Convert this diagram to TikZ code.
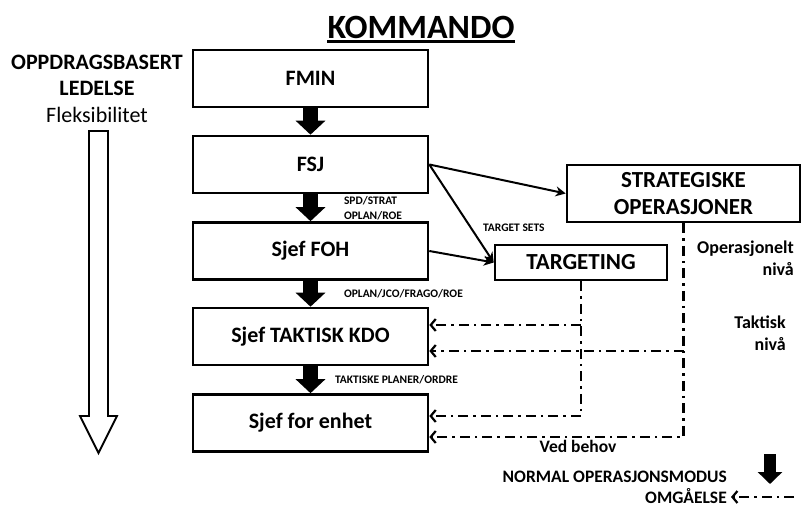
\documentclass[tikz,border=0pt]{standalone}
\usepackage{fontspec}
\setmainfont{Carlito}
\usetikzlibrary{arrows.meta}

\begin{document}
\begin{tikzpicture}[x=1pt, y=-1pt, font=\bfseries,
    box/.style={draw, line width=2.6pt, minimum width=235pt, minimum height=57pt, font=\fontsize{22}{26}\selectfont\bfseries},
    order/.style={line width=15pt, -{Triangle[width=29pt,length=14pt]}},
    link/.style={line width=2pt, -{Stealth[length=10pt,width=10pt]}},
    bypass/.style={line width=2.2pt, dash pattern=on 10pt off 5pt on 2.5pt off 5pt, -{Straight Barb[length=5pt,width=12pt]}},
    tiny/.style={font=\fontsize{11.5}{15}\selectfont\bfseries, inner sep=0pt, align=left},
    level/.style={font=\fontsize{18}{22}\selectfont\bfseries, inner sep=0pt, align=right}]
    \useasboundingbox (0,0) rectangle (801,508);

    \node[font=\fontsize{34}{40}\selectfont\bfseries, inner sep=0pt] (title) at (421,27) {KOMMANDO};
    \draw[line width=2.2pt] ([yshift=-3pt]title.south west) -- ([yshift=-3pt]title.south east);

    \node[font=\fontsize{22}{26}\selectfont\bfseries] (oppdrag) at (97,62) {OPPDRAGSBASERT};
    \node[font=\fontsize{22}{26}\selectfont\bfseries] (ledelse) at (97,88) {LEDELSE};
    \node[font=\fontsize{22}{26}\selectfont] (fleks) at (97,115) {Fleksibilitet};
    \draw[line width=1.8pt] (89,131) -- (108,131) -- (108,416) -- (117,416) -- (98.5,453)
        -- (80,416) -- (89,416) -- cycle;

    \node[box] (fmin) at (310.5,78.5) {FMIN};
    \node[box] (fsj) at (310.5,164.5) {FSJ};
    \node[box] (foh) at (310.5,251) {Sjef FOH};
    \node[box] (taktisk) at (310.5,336.5) {Sjef TAKTISK KDO};
    \node[box] (enhet) at (310.5,423) {Sjef for enhet};
    \node[box, minimum width=233pt, align=center, font=\fontsize{23}{27}\selectfont\bfseries] (strat) at (683.5,193.5) {STRATEGISKE\\OPERASJONER};
    \node[box, minimum width=172pt, minimum height=35pt, font=\fontsize{23}{27}\selectfont\bfseries] (targ) at (581,262.5) {TARGETING};

    \draw[order] (fmin) -- (fsj);
    \draw[order] (fsj) -- (foh) node[midway, right=26pt, tiny] {SPD/STRAT\\OPLAN/ROE};
    \draw[order] (foh) -- (taktisk) node[midway, right=26pt, tiny] {OPLAN/JCO/FRAGO/ROE};
    \draw[order] (taktisk) -- (enhet) node[midway, right=17pt, tiny] {TAKTISKE PLANER/ORDRE};

    \draw[link] (fsj.east) -- (strat.west);
    \draw[link] (fsj.east) -- (targ.west) node[pos=0.65, right=11pt, tiny] {TARGET SETS};
    \draw[link] (foh.east) -- (targ.west);

    \coordinate (tk1) at ([yshift=11.5pt]taktisk.east);
    \coordinate (tk2) at ([yshift=-14.5pt]taktisk.east);
    \coordinate (en1) at ([yshift=7pt]enhet.east);
    \coordinate (en2) at ([yshift=-14pt]enhet.east);
    \draw[bypass] (targ.south) |- (en1);
    \draw[bypass] (targ.south |- tk1) -- (tk1);
    \draw[bypass] (strat.south) |- (en2);
    \draw[bypass] (strat.south |- tk2) -- (tk2);
    \node[font=\fontsize{17.5}{20}\selectfont\bfseries] (behov) at (578,446) {Ved behov};

    \node[level, anchor=north east] (opnivaa) at (794,241) {Operasjonelt\\nivå};
    \node[level, anchor=north east] (taknivaa) at (786,316) {Taktisk\\nivå};

    % forklaring
    \node[font=\fontsize{17.5}{20}\selectfont\bfseries, anchor=east, inner sep=0pt] (normal) at (727,477) {NORMAL OPERASJONSMODUS};
    \node[font=\fontsize{17.5}{20}\selectfont\bfseries, anchor=east, inner sep=0pt] (omg) at (727,496) {OMGÅELSE};
    \coordinate (n1) at (770,454);
    \coordinate (n2) at (770,484);
    \draw[line width=12pt, -{Triangle[width=24pt,length=12pt]}] (n1) -- (n2);
    \coordinate (o1) at (794,497);
    \coordinate (o2) at (731,497);
    \draw[bypass] (o1) -- (o2);
\end{tikzpicture}
\end{document}
